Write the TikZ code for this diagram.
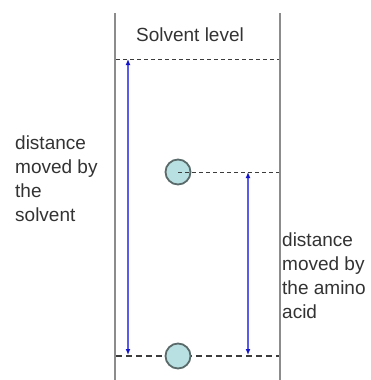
\documentclass[tikz,border=0pt]{standalone}
\usepackage{fontspec}
\setmainfont{Liberation Sans}
\usetikzlibrary{arrows.meta}
\definecolor{txt}{RGB}{51,51,51}
\definecolor{wall}{RGB}{140,140,140}
\definecolor{dash}{RGB}{60,60,60}
\definecolor{arr}{RGB}{90,90,235}
\definecolor{arrtip}{RGB}{20,20,200}
\definecolor{spotfill}{RGB}{184,224,226}
\definecolor{spotline}{RGB}{90,105,105}
\begin{document}
\begin{tikzpicture}[x=1pt,y=-1pt,
  wallline/.style={draw=wall,line width=1.5pt},
  thindash/.style={draw=dash,line width=1pt,dash pattern=on 4pt off 3pt},
  thickdash/.style={draw=dash,line width=2pt,dash pattern=on 6pt off 4pt},
  distarrow/.style={draw=arr,line width=1.2pt,{Latex[length=6pt,width=5pt,color=arrtip]}-{Latex[length=6pt,width=5pt,color=arrtip]}},
  spot/.style={circle,fill=spotfill,draw=spotline,line width=1.8pt,minimum size=25pt,inner sep=0pt},
  lbl/.style={text=txt,font=\fontsize{19}{24}\selectfont,inner sep=0pt,align=left}]
\useasboundingbox (0,0) rectangle (370,380);
\fill[white] (0,0) rectangle (370,380);
% walls
\coordinate (lt) at (115,13);
\coordinate (lb) at (115,380);
\coordinate (rt) at (280,13);
\coordinate (rb) at (280,380);
\draw[wallline] (lt) -- (lb);
\draw[wallline] (rt) -- (rb);
% solvent level
\node[lbl,anchor=center] (sl) at (190,35) {Solvent level};
\coordinate (tl) at (116,59);
\coordinate (tr) at (279,59);
\draw[thindash] (tl) -- (tr);
% bottom line and spot
\coordinate (bl) at (116,356);
\coordinate (br) at (279,356);
\draw[thickdash] (bl) -- (br);
\node[spot] (s0) at (178,356) {};
% moved spot
\node[spot] (s1) at (178,172) {};
\coordinate (mr) at (279,172);
\draw[thindash] (s1.center) -- (mr);
% arrows
\coordinate (a1t) at (128,59);
\coordinate (a1b) at (128,355);
\draw[distarrow] (a1t) -- (a1b);
\coordinate (a2t) at (248,172);
\coordinate (a2b) at (248,355);
\draw[distarrow] (a2t) -- (a2b);
% labels
\node[lbl,anchor=west] (ls) at (15,179) {distance\\moved by\\the\\solvent};
\node[lbl,anchor=west] (la) at (282,276) {distance\\moved by\\the amino\\acid};
\end{tikzpicture}
\end{document}
